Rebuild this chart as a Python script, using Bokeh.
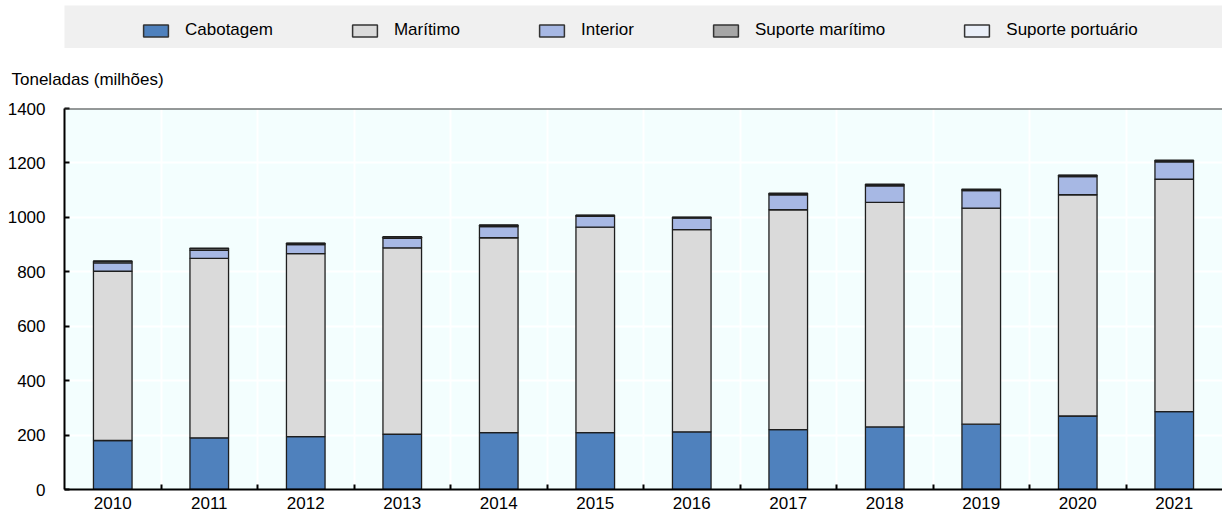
from bokeh.plotting import figure
from bokeh.models import (ColumnDataSource, Range1d, FixedTicker, Legend, LegendItem,
                          Span, BasicTickFormatter)
from bokeh.layouts import column
from bokeh.embed import file_html
from bokeh.resources import INLINE

# ---------------- data ----------------
years = [2010, 2011, 2012, 2013, 2014, 2015, 2016, 2017, 2018, 2019, 2020, 2021]
cabotagem = [180, 190, 194, 203, 209, 209, 212, 220, 230, 240, 270, 286]
maritimo = [622, 659, 673, 685, 716, 755, 743, 808, 825, 794, 813, 854]
interior = [31, 30, 33, 35, 41, 40, 42, 55, 61, 64, 67, 64]
suporte_maritimo = [5, 6, 4, 4, 4, 3, 3, 4, 4, 4, 4, 4]
suporte_portuario = [2, 2, 1, 2, 2, 1, 1, 2, 2, 2, 1, 2]

series_names = ["Cabotagem", "Marítimo", "Interior", "Suporte marítimo", "Suporte portuário"]
series_keys = ["cab", "mar", "int", "smar", "sport"]
colors = ["#4F81BD", "#DADADA", "#A7B8E4", "#A6A6A6", "#EAEFF8"]
y_ticks = [0, 200, 400, 600, 800, 1000, 1200, 1400]
y_label = "Toneladas (milhões)"

FONT = "Liberation Sans"
FS = "17px"
W = 1222
FRAME_LEFT = 64

source = ColumnDataSource(dict(year=years, cab=cabotagem, mar=maritimo, int=interior,
                               smar=suporte_maritimo, sport=suporte_portuario))

boundaries = [y + 0.5 for y in years[:-1]]

# ---------------- main chart ----------------
p = figure(width=W, height=466, output_backend="svg", toolbar_location=None,
           x_range=Range1d(years[0] - 0.5, years[-1] + 0.5),
           y_range=Range1d(y_ticks[0], y_ticks[-1]),
           min_border_left=FRAME_LEFT, min_border_right=0, min_border_top=59,
           min_border_bottom=25, background_fill_color="#F3FEFE",
           border_fill_color="white")
p.outline_line_color = None

p.vbar_stack(series_keys, x="year", width=0.4, source=source, fill_color=colors,
             line_color="#1E1E1E", line_width=1.3)

# title
p.title.text = y_label
p.title.align = "left"
p.title.offset = -53
p.title.standoff = 39
p.title.text_font = FONT
p.title.text_font_size = FS
p.title.text_font_style = "normal"
p.title.text_color = "#000000"

# x axis
xa = p.xaxis[0]
xa.ticker = FixedTicker(ticks=years, minor_ticks=boundaries)
xa.formatter = BasicTickFormatter(use_scientific=False)
xa.major_tick_in = 0
xa.major_tick_out = 0
xa.minor_tick_in = 5
xa.minor_tick_out = 0
xa.minor_tick_line_width = 2
xa.minor_tick_line_color = "#000000"
xa.axis_line_width = 2
xa.axis_line_color = "#000000"
xa.major_label_text_font = FONT
xa.major_label_text_font_size = FS
xa.major_label_text_color = "#000000"
xa.major_label_standoff = 7

# y axis
ya = p.yaxis[0]
ya.ticker = FixedTicker(ticks=y_ticks)
ya.major_tick_in = 5
ya.major_tick_out = 0
ya.major_tick_line_width = 2
ya.major_tick_line_color = "#000000"
ya.minor_tick_line_color = None
ya.axis_line_width = 2
ya.axis_line_color = "#000000"
ya.major_label_text_font = FONT
ya.major_label_text_font_size = FS
ya.major_label_text_color = "#000000"
ya.major_label_standoff = 19

# grids
p.xgrid.ticker = FixedTicker(ticks=boundaries)
p.xgrid.grid_line_color = "white"
p.xgrid.grid_line_width = 2
p.ygrid.grid_line_color = "white"
p.ygrid.grid_line_width = 2

# top frame line
p.add_layout(Span(location=y_ticks[-1], dimension="width", line_color="#333333",
                  line_width=2))

# ---------------- legend band ----------------
lg = figure(width=W, height=48, output_backend="svg", toolbar_location=None,
            x_range=Range1d(0, 1), y_range=Range1d(0, 1),
            x_axis_location=None, y_axis_location=None,
            min_border_left=FRAME_LEFT, min_border_right=0, min_border_top=5,
            min_border_bottom=0, background_fill_color="#F0F0F0",
            border_fill_color="white")
lg.outline_line_color = None
lg.grid.visible = False

items = []
nan = float("nan")
for name, c in zip(series_names, colors):
    r = lg.vbar(x=[nan], top=[nan], width=0.5, fill_color=c, line_color="#333333",
                line_width=1.5)
    items.append(LegendItem(label=name, renderers=[r]))

legend = Legend(items=items, orientation="horizontal", location=(76, 8),
                background_fill_alpha=0, border_line_alpha=0,
                glyph_width=31, glyph_height=15, label_standoff=14, spacing=76,
                padding=0, margin=0, label_text_font=FONT, label_text_font_size=FS,
                label_text_color="#000000")
lg.add_layout(legend)

layout = column(lg, p, spacing=0)

open("out.html", "w").write(file_html(layout, INLINE))
